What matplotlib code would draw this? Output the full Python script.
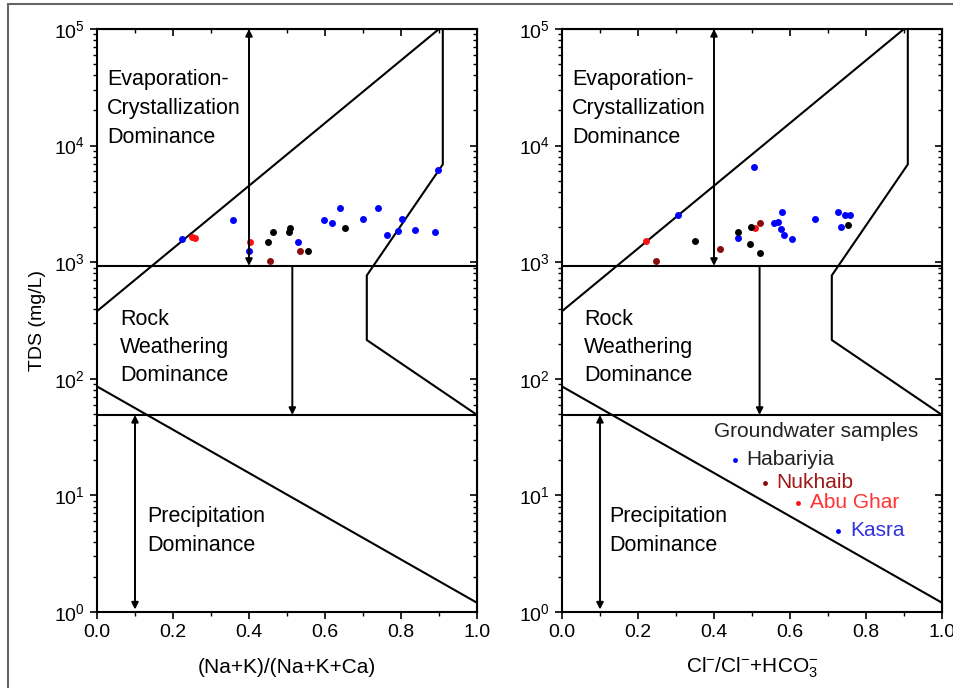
import matplotlib
matplotlib.use("Agg")
import matplotlib.pyplot as plt
from matplotlib.patches import Rectangle
from matplotlib.ticker import MultipleLocator, LogLocator

plt.rcParams['font.family'] = ['Liberation Sans', 'DejaVu Sans']
plt.rcParams['mathtext.fontset'] = 'custom'
plt.rcParams['mathtext.rm'] = 'Liberation Sans'
plt.rcParams['mathtext.it'] = 'Liberation Sans:italic'

# Gibbs diagram boundaries (x ratio, TDS mg/L)
upper_x = [0.0, 0.90]
upper_y = [380, 1e5]
lower_x = [0.0, 1.0]
lower_y = [86, 1.2]
bound_x = [0.91, 0.91, 0.71, 0.71, 1.0]
bound_y = [1e5, 6900, 770, 215, 49]
evap_line = 930
prec_line = 49

# left panel: (Na+K)/(Na+K+Ca)
hab_l_x = [0.224, 0.358, 0.399, 0.528, 0.598, 0.618, 0.640, 0.699, 0.739, 0.802, 0.792, 0.762, 0.836]
hab_l_y = [1570, 2290, 1240, 1490, 2290, 2150, 2940, 2360, 2940, 2350, 1860, 1700, 1880]
kas_l_x = [0.889, 0.898]
kas_l_y = [1810, 6190]
nuk_l_x = [0.454, 0.535]
nuk_l_y = [1020, 1245]
abu_l_x = [0.250, 0.258, 0.402]
abu_l_y = [1650, 1610, 1480]
oth_l_x = [0.464, 0.451, 0.507, 0.506, 0.652, 0.555]
oth_l_y = [1800, 1480, 1960, 1800, 1960, 1245]

# right panel: Cl/(Cl+HCO3)
hab_r_x = [0.306, 0.463, 0.580, 0.559, 0.568, 0.576, 0.584, 0.606, 0.667, 0.726]
hab_r_y = [2540, 1610, 2720, 2150, 2210, 1910, 1700, 1570, 2350, 2720]
kas_r_x = [0.505, 0.745, 0.757, 0.733]
kas_r_y = [6560, 2560, 2560, 2020]
nuk_r_x = [0.248, 0.416, 0.521]
nuk_r_y = [1020, 1290, 2150]
abu_r_x = [0.222, 0.509]
abu_r_y = [1530, 1960]
oth_r_x = [0.349, 0.463, 0.498, 0.494, 0.521, 0.752]
oth_r_y = [1530, 1830, 2020, 1430, 1210, 2090]

blue = '#0000ff'
dred = '#8b0a0a'
red = '#ff1010'

fig = plt.figure(figsize=(9.54, 6.88), dpi=100)
fig.patches.append(Rectangle((8 / 954, -0.05), 1.1, 1 - 4 / 688 + 0.05, transform=fig.transFigure,
                             fill=False, edgecolor='#666666', lw=1.5))

ax1 = fig.add_axes([97 / 954, 1 - 612 / 688, 380 / 954, 583 / 688])
ax2 = fig.add_axes([562 / 954, 1 - 612 / 688, 380 / 954, 583 / 688])

panels = [
    (ax1, [(hab_l_x, hab_l_y, blue), (kas_l_x, kas_l_y, blue), (nuk_l_x, nuk_l_y, dred),
           (abu_l_x, abu_l_y, red), (oth_l_x, oth_l_y, 'black')], 0.514, [0.06, 0.131],
     '(Na+K)/(Na+K+Ca)'),
    (ax2, [(hab_r_x, hab_r_y, blue), (kas_r_x, kas_r_y, blue), (nuk_r_x, nuk_r_y, dred),
           (abu_r_x, abu_r_y, red), (oth_r_x, oth_r_y, 'black')], 0.52, [0.058, 0.124],
     'Cl$^{-}$/Cl$^{-}$+HCO$_3^{-}$'),
]

for ax, series, mid_x, txt_x, xlab in panels:
    ax.set_xlim(0, 1)
    ax.set_yscale('log')
    ax.set_ylim(1, 1e5)
    ax.plot(upper_x, upper_y, color='black', lw=1.5)
    ax.plot(lower_x, lower_y, color='black', lw=1.5)
    ax.plot(bound_x, bound_y, color='black', lw=1.5)
    ax.axhline(evap_line, color='black', lw=1.5)
    ax.axhline(prec_line, color='black', lw=1.5)
    # arrows
    ax.annotate('', xy=(0.4, 1e5), xytext=(0.4, evap_line),
                arrowprops=dict(arrowstyle='<|-|>', color='black', lw=1.4, shrinkA=0, shrinkB=0,
                                mutation_scale=10))
    ax.annotate('', xy=(mid_x, prec_line), xytext=(mid_x, evap_line),
                arrowprops=dict(arrowstyle='-|>', color='black', lw=1.4, shrinkA=0, shrinkB=0,
                                mutation_scale=10))
    ax.annotate('', xy=(0.1, prec_line), xytext=(0.1, 1.05),
                arrowprops=dict(arrowstyle='<|-|>', color='black', lw=1.4, shrinkA=0, shrinkB=0,
                                mutation_scale=10))
    for xs, ys, c in series:
        ax.plot(xs, ys, 'o', color=c, ms=5, mec='none')
    ax.text(0.026, 21000, 'Evaporation-\nCrystallization\nDominance', fontsize=15.5,
            va='center', ha='left', linespacing=1.5)
    ax.text(txt_x[0], 185, 'Rock\nWeathering\nDominance', fontsize=15.5,
            va='center', ha='left', linespacing=1.42)
    ax.text(txt_x[1], 4.96, 'Precipitation\nDominance', fontsize=15.5,
            va='center', ha='left', linespacing=1.45)
    ax.xaxis.set_major_locator(MultipleLocator(0.2))
    ax.xaxis.set_minor_locator(MultipleLocator(0.1))
    ax.yaxis.set_major_locator(LogLocator(base=10, numticks=10))
    ax.yaxis.set_minor_locator(LogLocator(base=10, subs=range(2, 10), numticks=10))
    ax.tick_params(which='both', left=True, right=False, top=False, bottom=True, direction='out')
    ax.tick_params(which='major', length=5, width=1.2, labelsize=14)
    ax.tick_params(which='minor', length=3, width=1)
    ax.xaxis.set_major_formatter(matplotlib.ticker.FormatStrFormatter('%.1f'))
    for lab in ax.get_xticklabels():
        lab.set_fontfamily(['Liberation Sans Narrow', 'Liberation Sans'])
    sec = ax.secondary_yaxis('right')
    sec.set_yscale('log')
    sec.yaxis.set_major_locator(LogLocator(base=10, numticks=10))
    sec.yaxis.set_minor_locator(LogLocator(base=10, subs=range(2, 10), numticks=10))
    sec.tick_params(which='both', direction='in', labelright=False)
    sec.tick_params(which='major', length=5, width=1.2)
    sec.tick_params(which='minor', length=3, width=1)
    top = ax.secondary_xaxis('top')
    top.xaxis.set_major_locator(MultipleLocator(0.2))
    top.xaxis.set_minor_locator(MultipleLocator(0.1))
    top.tick_params(which='both', direction='in', labeltop=False)
    top.tick_params(which='major', length=5, width=1.2)
    top.tick_params(which='minor', length=3, width=1)
    for s in ax.spines.values():
        s.set_linewidth(1.5)
    ax.set_xlabel(xlab, fontsize=15)
    ax.xaxis.set_label_coords(0.5, -0.096)
    ax.xaxis.label.set_verticalalignment('center')

ax1.set_ylabel('TDS (mg/L)', fontsize=14, labelpad=6)

# legend in right panel
ax2.text(0.401, 35.2, 'Groundwater samples', fontsize=15, va='center', ha='left', color='#222222')
leg_names = ['Habariyia', 'Nukhaib', 'Abu Ghar', 'Kasra']
leg_dot_colors = [blue, dred, red, blue]
leg_text_colors = ['#222222', '#a01818', '#ff3333', '#3333dd']
leg_x = [0.454, 0.533, 0.620, 0.726]
leg_y = [20.2, 12.8, 8.64, 4.96]
for name, dc, tc, lx, ly in zip(leg_names, leg_dot_colors, leg_text_colors, leg_x, leg_y):
    ax2.plot([lx], [ly], 'o', color=dc, ms=3.5, mec='none')
    ax2.text(lx + 0.032, ly, name, fontsize=15, va='center', ha='left', color=tc)

fig.savefig('out.png', dpi=100)
